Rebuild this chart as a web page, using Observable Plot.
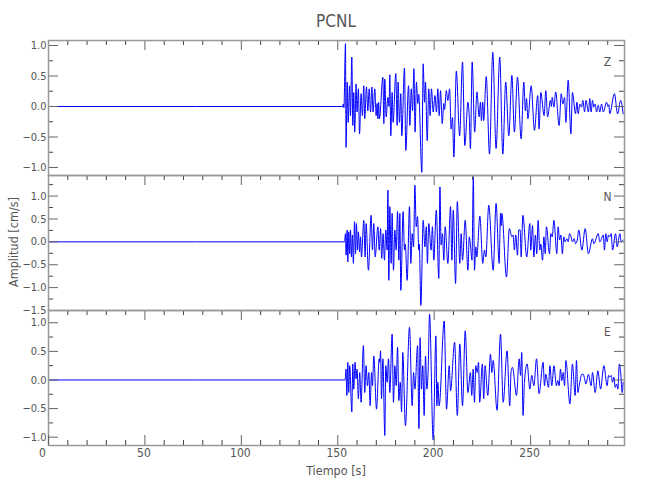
<!DOCTYPE html>
<html>
<head>
<meta charset="utf-8">
<script src="https://cdn.jsdelivr.net/npm/d3@7"></script>
<script src="https://cdn.jsdelivr.net/npm/@observablehq/plot@0.6"></script>
<style>
  body { margin: 0; background: #fff; }
  #wrap { position: relative; width: 650px; height: 500px; overflow: hidden; background: #fff;
          font-family: 'Liberation Sans Narrow', 'DejaVu Sans Condensed', sans-serif; color: #555; }
  #wrap svg { position: absolute; left: 0; }
  .lab { position: absolute; white-space: nowrap; }
</style>
</head>
<body>
<div id="wrap"></div>
<script>
// ---- Data ----
const stationName = "PCNL";
const components = ["Z", "N", "E"];
const xMajorTicks = [0, 50, 100, 150, 200, 250];
const xTickLabels = ["0", "50", "100", "150", "200", "250"];
const timeMax = 298.7;

// Z component: time (s) and amplitude (cm/s) at waveform turning points
const zT = [0,152.5,152.8,153.2,154.0,154.3,154.9,155.4,156.1,156.6,157.3,157.8,158.3,158.8,159.5,160.0,160.7,161.3,162.1,162.8,163.5,164.0,164.9,165.6,166.3,167.0,167.7,168.3,169.2,169.9,170.4,170.8,171.2,171.6,173.4,173.9,174.4,175.1,176.0,176.6,177.0,177.5,178.2,178.7,180.1,180.8,181.3,182.0,182.7,183.2,184.6,185.3,186.7,187.4,188.1,188.8,189.5,190.1,190.8,191.5,192.0,193.6,194.3,195.0,195.5,196.4,197.2,197.9,198.6,199.5,200.4,201.2,201.9,202.6,203.3,204.2,205.0,205.4,206.3,207.1,208.0,208.8,209.5,210.2,211.5,213.2,214.7,215.9,217.5,218.2,218.8,219.7,221.0,222.2,223.3,224.0,224.5,225.2,225.7,227.0,228.7,230.4,232.1,234.0,235.6,237.1,238.7,240.3,241.6,243.2,245.1,246.5,247.3,247.9,248.6,250.3,252.0,253.7,254.4,255.3,257.0,257.9,258.8,260.3,260.8,261.2,262.1,263.0,264.8,265.9,266.7,267.6,268.3,269.5,270.9,271.7,273.3,274.0,274.7,275.5,276.4,277.1,278.0,278.7,280.0,280.7,281.4,282.1,282.8,283.5,284.2,285.1,285.9,286.8,287.7,289.4,290.1,290.6,291.0,293.5,295.1,296.7,298.0];
const zV = [0,0,0.04,-0.02,1.03,-0.67,0.40,-0.26,0.34,-0.15,0.81,-0.31,0.23,-0.42,0.37,-0.09,0.29,-0.45,0.21,-0.15,0.34,-0.20,0.32,-0.07,0.29,-0.09,0.32,-0.09,0.29,-0.15,0.05,-0.20,0.07,-0.20,0.48,-0.28,0.45,-0.17,0.15,0.0,0.52,-0.48,0.23,-0.26,0.54,-0.31,0.40,-0.26,0.21,-0.48,0.63,-0.72,0.34,-0.31,0.29,-0.07,0.62,-0.42,0.40,0.05,0.20,-1.08,0.70,0.07,0.40,-0.56,0.29,-0.15,0.29,-0.09,0.18,-0.09,0.29,-0.15,0.26,-0.28,0.05,-0.05,0.26,0.10,0.29,-0.37,-0.18,-0.83,0.58,-0.48,0.73,-0.64,0.07,-0.17,-0.69,0.73,-0.42,0.24,-0.17,0.07,-0.23,0.07,-0.23,0.49,-0.78,0.89,-0.69,0.81,-0.78,0.40,-0.48,0.51,-0.42,0.48,-0.53,0.40,-0.07,0.13,-0.20,0.34,-0.39,0.18,-0.37,0.23,-0.15,0.26,-0.17,0.10,0.0,0.15,-0.01,0.24,-0.31,0.21,0.04,0.15,-0.26,0.43,-0.45,0.23,-0.12,0.07,-0.12,0.04,-0.01,0.10,-0.09,0.10,-0.09,0.13,-0.09,0.10,-0.01,0.04,-0.09,0.02,-0.09,0.04,-0.09,0.07,0.0,0.03,-0.12,0.21,-0.12,0.10,-0.12];

// N component
const nT = [0,153.5,154.0,154.3,154.9,155.2,155.7,156.2,156.6,157.1,157.6,158.1,158.7,159.2,159.7,160.2,160.7,161.3,161.8,162.3,163.5,164.2,164.7,165.9,167.3,168.0,168.7,169.4,170.8,171.5,172.2,172.8,173.5,174.2,174.9,175.6,176.0,176.5,177.0,177.7,178.2,178.9,179.6,180.3,181.0,181.7,182.2,182.7,183.9,184.6,185.0,186.0,187.2,187.9,188.6,189.3,190.0,190.7,191.4,192.0,192.3,193.1,194.3,195.2,195.9,196.5,197.2,198.4,199.1,199.8,201.1,202.4,203.0,203.6,204.3,205.0,205.7,207.1,208.5,209.2,209.9,211.1,212.0,213.3,214.0,214.7,216.1,217.5,218.2,218.9,219.6,220.3,220.9,221.6,222.1,223.7,225.2,226.1,226.8,228.3,230.6,232.1,233.7,234.4,234.7,235.1,237.5,239.0,240.3,240.9,241.6,242.3,243.2,243.9,244.6,245.1,246.0,248.0,249.6,250.1,251.0,251.7,252.5,253.2,253.9,254.8,255.3,256.2,256.9,257.6,258.2,259.8,260.5,261.2,262.1,263.6,264.3,265.0,265.7,266.5,267.2,267.9,268.8,269.5,270.2,271.0,271.7,272.6,273.3,274.2,275.0,276.6,278.3,280.0,282.1,282.8,285.1,285.9,287.7,288.3,289.0,289.7,290.4,291.1,291.8,292.5,294.1,294.9,296.3,297.0,298.0];
const nV = [0,0,0.18,-0.29,0.26,-0.44,0.22,-0.26,0.26,-0.33,0.15,-0.47,0.44,-0.26,0.40,-0.18,0.22,-0.22,0.11,-0.33,0.47,-0.33,0.40,-0.62,0.58,-0.18,0.40,-0.33,0.33,-0.18,0.29,-0.36,0.18,-0.40,0.26,-0.18,1.13,-0.84,0.77,-0.47,0.62,-0.62,0.26,-0.18,0.66,-0.40,0.62,-1.06,0.66,-0.18,-0.05,-0.84,0.77,-0.47,0.18,-0.11,1.24,0.33,0.55,-0.18,-0.05,-1.39,0.47,-0.11,0.33,-0.47,0.40,-0.18,0.33,-0.40,0.69,-0.80,1.20,-0.07,0.18,-0.40,0.33,-0.47,0.77,-0.40,0.69,-0.91,0.88,-0.47,0.18,-0.40,0.47,-0.62,0.11,-0.11,-0.40,1.42,-0.62,-0.11,-0.33,0.56,-0.47,-0.18,-0.33,0.80,-0.62,0.84,-0.47,0.62,0.35,0.62,-0.77,0.29,0.11,0.15,-0.18,0.15,-0.29,0.26,0.26,-0.33,0.58,-0.33,0.40,-0.18,0.36,-0.33,0.15,-0.26,0.47,-0.18,-0.05,-0.40,0.11,-0.26,0.33,-0.26,0.18,0.11,0.47,-0.26,0.33,0.04,0.15,-0.26,0.11,0.0,0.07,0.0,0.18,0.11,0.0,0.07,-0.04,0.04,0.26,-0.18,0.29,-0.26,0.07,-0.04,0.18,0.0,0.15,-0.18,0.18,0.0,0.15,0.11,0.18,-0.18,0.18,-0.11,0.18,0.0,0.04];

// E component
const eT = [0,153.8,154.3,154.7,155.2,155.7,156.2,157.3,157.8,158.3,159.0,159.5,160.0,160.7,161.4,162.1,163.3,164.0,164.7,165.4,166.1,166.8,167.5,168.0,168.7,170.1,171.5,171.8,172.2,172.7,173.4,174.4,174.9,175.6,176.3,177.0,178.2,178.9,179.6,180.3,181.0,181.7,182.4,183.1,183.7,185.1,187.2,188.6,189.3,190.0,191.4,192.1,192.7,193.4,194.1,194.8,195.5,196.2,196.9,197.6,199.5,200.9,201.4,201.9,202.6,205.2,206.4,207.8,208.5,210.6,212.0,213.3,214.7,216.1,217.5,218.8,219.5,220.2,220.9,221.6,222.3,223.0,223.6,225.0,225.7,226.4,227.8,229.2,229.9,230.6,232.6,234.4,235.8,237.8,239.2,239.9,240.6,242.7,244.1,244.8,245.4,246.1,246.8,248.2,249.6,250.6,251.7,253.1,254.4,256.5,257.2,257.9,259.3,260.0,261.0,262.1,263.4,264.1,264.8,265.5,266.2,266.9,267.6,268.3,270.4,271.7,273.1,273.8,274.5,275.2,276.6,277.3,278.0,278.7,280.0,281.4,282.1,283.5,284.9,286.3,288.0,289.7,290.4,291.1,291.8,292.5,293.2,293.9,294.6,295.3,296.0,296.7,297.5,298.0];
const eV = [0,0,0.19,-0.27,0.31,-0.22,0.25,-0.56,0.28,-0.16,0.31,0.02,0.19,-0.33,0.13,-0.39,0.60,-0.22,0.25,-0.10,0.13,-0.45,0.13,-0.10,0.42,-0.51,0.37,0.31,0.51,-0.33,0.37,-0.97,0.25,-0.04,0.37,-0.22,0.80,-0.39,0.25,-0.10,0.57,-0.36,-0.04,-0.56,0.48,-0.80,0.92,-0.45,0.13,-0.16,0.60,-0.85,0.74,-0.16,0.25,-0.62,0.42,-0.16,0.19,1.15,-1.05,0.77,-0.45,-0.04,-0.45,1.03,-0.51,0.25,-0.19,0.66,-0.62,0.63,-0.45,0.86,-0.22,0.13,-0.27,0.19,-0.39,0.25,0.13,0.31,-0.39,0.28,-0.33,0.25,-0.27,0.45,0.13,0.34,-0.53,0.80,-0.39,0.51,-0.45,0.16,0.22,-0.27,0.37,0.08,0.48,-0.62,-0.04,0.28,-0.16,0.08,-0.10,0.37,-0.24,0.31,-0.10,0.10,-0.13,0.25,-0.10,0.25,-0.10,-0.01,-0.10,0.19,-0.01,0.13,-0.10,0.34,-0.42,0.28,-0.27,0.34,-0.22,-0.10,0.10,0.10,0.02,-0.07,0.10,-0.10,0.13,-0.22,0.16,-0.16,0.25,-0.10,0.08,0.05,0.08,-0.04,0.05,-0.13,-0.07,-0.16,0.28,0.13,-0.22,-0.04];

// y tick values per panel
const zYTicks = [-1, -0.5, 0, 0.5, 1];
const nYTicks = [-1.5, -1, -0.5, 0, 0.5, 1];
const eYTicks = [-1, -0.5, 0, 0.5, 1];

// ---- Drawing ----
const FONT = "'Liberation Sans Narrow', 'DejaVu Sans Condensed', sans-serif";
const W = 650, ML = 48, MR = 26, PH = 135;
const FW = W - ML - MR;
const rows = (T, V) => T.map((t, i) => ({t, v: V[i]}));
const xMinor = d3.range(0, 300, 10).filter(d => d % 50 !== 0);
const minorY = (dom) => d3.range(-2, 2.01, 0.25).filter(d => d >= dom[0] - 1e-9 && d <= dom[1] + 1e-9 && Math.abs(d * 2 - Math.round(d * 2)) > 1e-9);
const fmt = d3.format(".1f");

function yTicks(vals, len, stroke) {
  return [
    Plot.tickY(vals, {y: d => d, insetRight: FW - len, stroke, strokeWidth: 1}),
    Plot.tickY(vals, {y: d => d, insetLeft: FW - len, stroke, strokeWidth: 1})
  ];
}
function xTicksAt(vals, len, stroke, where) {
  return Plot.tickX(vals, where === "top"
    ? {x: d => d, insetBottom: PH - len, stroke, strokeWidth: 1}
    : {x: d => d, insetTop: PH - len, stroke, strokeWidth: 1});
}

function panel({data, domain, yMaj, tag, top, mt, mb, bottom}) {
  const marks = [
    Plot.line(data, {x: "t", y: "v", stroke: "#0000ff", strokeWidth: 1, curve: "monotone-x"}),
    ...yTicks(minorY(domain), 5, "#444"),
    ...yTicks(yMaj, 10, "#666"),
    xTicksAt(xMinor, 5, "#444", "top"),
    xTicksAt(xMajorTicks, 10, "#666", "top"),
    Plot.text(yMaj, {y: d => d, text: d => fmt(d), frameAnchor: "left", textAnchor: "end", dx: -2, fill: "#555", fontSize: 11}),
    Plot.frame({stroke: "#999", strokeWidth: 1.5}),
    Plot.text([tag], {frameAnchor: "top-right", dx: -17, dy: 22, text: d => d, lineAnchor: "middle", textAnchor: "middle", fill: "#555", fontSize: 12})
  ];
  if (bottom) {
    const first = xMajorTicks.slice(0, 1), rest = xMajorTicks.slice(1);
    marks.push(
      xTicksAt(xMinor, 5, "#444", "bottom"),
      xTicksAt(xMajorTicks, 10, "#666", "bottom"),
      Plot.text(first, {x: d => d, text: d => xTickLabels[xMajorTicks.indexOf(d)], frameAnchor: "bottom", lineAnchor: "top", dy: 3, dx: -6, fill: "#555", fontSize: 12}),
      Plot.text(rest, {x: d => d, text: d => xTickLabels[xMajorTicks.indexOf(d)], frameAnchor: "bottom", lineAnchor: "top", dy: 3, dx: -1, fill: "#555", fontSize: 12})
    );
  }
  const svg = Plot.plot({
    width: W, height: mt + PH + mb,
    marginLeft: ML, marginRight: MR, marginTop: mt, marginBottom: mb,
    x: {domain: [0, timeMax], axis: null},
    y: {domain, axis: null},
    style: {background: "none", fontFamily: FONT, fontSize: "11px", color: "#555", overflow: "visible"},
    marks
  });
  svg.style.top = top + "px";
  return svg;
}

const wrap = document.getElementById("wrap");
const specs = [
  {data: rows(zT, zV), domain: [-1.131, 1.082], yMaj: zYTicks, tag: components[0], top: 0, mt: 40, mb: 2},
  {data: rows(nT, nV), domain: [-1.5, 1.45], yMaj: nYTicks, tag: components[1], top: 173, mt: 2, mb: 2},
  {data: rows(eT, eV), domain: [-1.145, 1.214], yMaj: eYTicks, tag: components[2], top: 308, mt: 2, mb: 40, bottom: true}
];
for (const s of specs) wrap.appendChild(panel(s));

function label(text, css) {
  const d = document.createElement("div");
  d.className = "lab";
  d.textContent = text;
  Object.assign(d.style, css);
  wrap.appendChild(d);
}
label(stationName, {left: "336px", top: "21px", transform: "translate(-50%,-50%)", fontSize: "17px"});
label("Amplitud [cm/s]", {left: "13px", top: "242px", transform: "translate(-50%,-50%) rotate(-90deg)", fontSize: "12.5px"});
label("Tiempo [s]", {left: "336px", top: "470px", transform: "translate(-50%,-50%)", fontSize: "12.5px"});
</script>
</body>
</html>
